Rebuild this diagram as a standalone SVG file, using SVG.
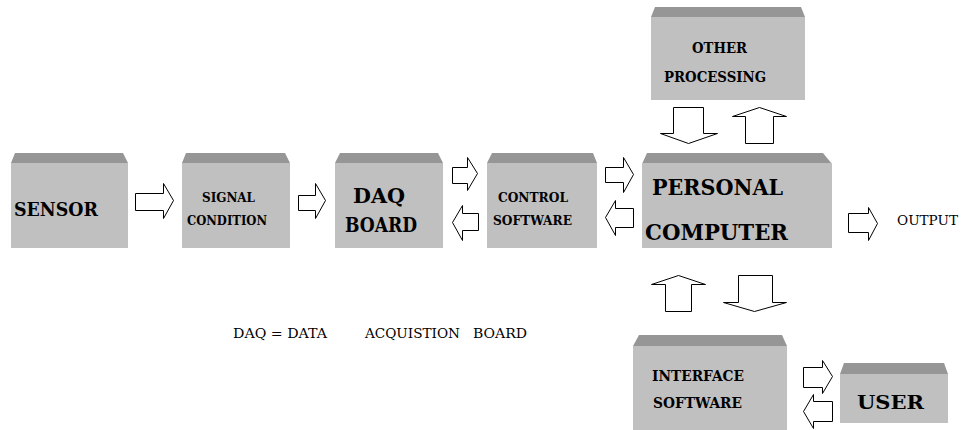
<svg xmlns="http://www.w3.org/2000/svg" width="961" height="430" viewBox="0 0 961 430">
  <style>
    .body { fill: #c0c0c0; }
    .bevel { fill: #969696; }
    .arrow { fill: #ffffff; stroke: #000000; stroke-width: 1; stroke-linejoin: miter; }
    .lbl { font-family: 'DejaVu Serif', 'Liberation Serif', serif; font-weight: 700; fill: #000000; }
    .note { font-family: 'DejaVu Serif', 'Liberation Serif', serif; fill: #000000; }
  </style>
  <rect width="961" height="430" fill="#ffffff"/>

  <!-- blocks: bevelled top strip plus grey body -->
  <g id="sensor">
    <polygon class="bevel" points="15,153 123,153 128,163 11,163"/>
    <rect class="body" x="11" y="163" width="117" height="85"/>
    <text class="lbl" x="14" y="216" font-size="18" textLength="84" lengthAdjust="spacingAndGlyphs">SENSOR</text>
  </g>

  <g id="signal-condition">
    <polygon class="bevel" points="186,153 285,153 290,163 182,163"/>
    <rect class="body" x="182" y="163" width="108" height="85"/>
    <text class="lbl" x="202" y="202" font-size="12.5" textLength="53" lengthAdjust="spacingAndGlyphs">SIGNAL</text>
    <text class="lbl" x="187" y="225" font-size="12.5" textLength="80" lengthAdjust="spacingAndGlyphs">CONDITION</text>
  </g>

  <g id="daq-board">
    <polygon class="bevel" points="340,153 438,153 443,163 335,163"/>
    <rect class="body" x="335" y="163" width="108" height="85"/>
    <text class="lbl" x="353" y="203" font-size="20" textLength="52" lengthAdjust="spacingAndGlyphs">DAQ</text>
    <text class="lbl" x="345" y="232" font-size="20" textLength="72" lengthAdjust="spacingAndGlyphs">BOARD</text>
  </g>

  <g id="control-software">
    <polygon class="bevel" points="492,153 593,153 597,163 487,163"/>
    <rect class="body" x="487" y="163" width="110" height="85"/>
    <text class="lbl" x="498" y="202" font-size="12.5" textLength="70" lengthAdjust="spacingAndGlyphs">CONTROL</text>
    <text class="lbl" x="493" y="225" font-size="12.5" textLength="79" lengthAdjust="spacingAndGlyphs">SOFTWARE</text>
  </g>

  <g id="personal-computer">
    <polygon class="bevel" points="647,153 823,153 832,164 642,164"/>
    <rect class="body" x="642" y="163" width="190" height="85"/>
    <text class="lbl" x="652" y="195" font-size="22" textLength="131" lengthAdjust="spacingAndGlyphs">PERSONAL</text>
    <text class="lbl" x="645" y="240" font-size="22" textLength="143" lengthAdjust="spacingAndGlyphs">COMPUTER</text>
  </g>

  <g id="other-processing">
    <polygon class="bevel" points="655,7 801,7 805,17 651,17"/>
    <rect class="body" x="651" y="17" width="154" height="83"/>
    <text class="lbl" x="692" y="53" font-size="14" textLength="55" lengthAdjust="spacingAndGlyphs">OTHER</text>
    <text class="lbl" x="664" y="82" font-size="14" textLength="102" lengthAdjust="spacingAndGlyphs">PROCESSING</text>
  </g>

  <g id="interface-software">
    <polygon class="bevel" points="639,335 782,335 787,346 633,346"/>
    <rect class="body" x="633" y="346" width="154" height="84"/>
    <text class="lbl" x="652" y="381" font-size="14" textLength="92" lengthAdjust="spacingAndGlyphs">INTERFACE</text>
    <text class="lbl" x="653" y="408" font-size="14" textLength="89" lengthAdjust="spacingAndGlyphs">SOFTWARE</text>
  </g>

  <g id="user">
    <polygon class="bevel" points="844,363 944,363 948,374 840,374"/>
    <rect class="body" x="840" y="374" width="108" height="49"/>
    <text class="lbl" x="857" y="409" font-size="19" textLength="67" lengthAdjust="spacingAndGlyphs">USER</text>
  </g>

  <g id="output-label">
    <text class="note" x="897" y="225" font-size="12" textLength="61" lengthAdjust="spacingAndGlyphs">OUTPUT</text>
  </g>

  <g id="legend">
    <text class="note" x="233" y="338" font-size="12" textLength="94" lengthAdjust="spacingAndGlyphs">DAQ = DATA</text>
    <text class="note" x="365" y="338" font-size="12" textLength="95" lengthAdjust="spacingAndGlyphs">ACQUISTION</text>
    <text class="note" x="473" y="338" font-size="12" textLength="54" lengthAdjust="spacingAndGlyphs">BOARD</text>
  </g>

  <!-- block arrows between the stages -->
  <g id="connectors">
    <!-- sensor to signal condition -->
    <polygon class="arrow" points="135.5,193.5 163.5,193.5 163.5,183.5 173.5,200.5 163.5,218.5 163.5,210.5 135.5,210.5"/>
    <!-- signal condition to DAQ board -->
    <polygon class="arrow" points="298.5,195.5 315.5,195.5 315.5,183.5 325.5,200.5 315.5,218.5 315.5,210.5 298.5,210.5"/>
    <!-- DAQ board to control software -->
    <polygon class="arrow" points="452.5,167.5 467.5,167.5 467.5,157.5 477.5,173.5 467.5,190.5 467.5,183.5 452.5,183.5"/>
    <!-- control software back to DAQ board -->
    <polygon class="arrow" points="478.5,213.5 462.5,213.5 462.5,205.5 452.5,222.5 462.5,240.5 462.5,230.5 478.5,230.5"/>
    <!-- control software to computer -->
    <polygon class="arrow" points="605.5,167.5 623.5,167.5 623.5,157.5 633.5,174.5 623.5,192.5 623.5,182.5 605.5,182.5"/>
    <!-- computer back to control software -->
    <polygon class="arrow" points="633.5,208.5 615.5,208.5 615.5,200.5 605.5,217.5 615.5,235.5 615.5,227.5 633.5,227.5"/>
    <!-- computer output -->
    <polygon class="arrow" points="848.5,213.5 868.5,213.5 868.5,207.5 877.5,223.5 868.5,240.5 868.5,232.5 848.5,232.5"/>
    <!-- other processing down to computer -->
    <polygon class="arrow" points="673.5,107.5 703.5,107.5 703.5,133.5 717.5,133.5 688.5,143.5 660.5,133.5 673.5,133.5"/>
    <!-- computer up to other processing -->
    <polygon class="arrow" points="745.5,143.5 773.5,143.5 773.5,116.5 786.5,116.5 759.5,107.5 732.5,116.5 745.5,116.5"/>
    <!-- interface software up to computer -->
    <polygon class="arrow" points="665.5,311.5 691.5,311.5 691.5,284.5 705.5,284.5 678.5,275.5 651.5,284.5 665.5,284.5"/>
    <!-- computer down to interface software -->
    <polygon class="arrow" points="738.5,275.5 772.5,275.5 772.5,302.5 786.5,302.5 754.5,311.5 723.5,302.5 738.5,302.5"/>
    <!-- interface software to user -->
    <polygon class="arrow" points="803.5,367.5 822.5,367.5 822.5,360.5 832.5,376.5 822.5,393.5 822.5,387.5 803.5,387.5"/>
    <!-- user back to interface software -->
    <polygon class="arrow" points="832.5,401.5 813.5,401.5 813.5,394.5 803.5,411.5 813.5,428.5 813.5,421.5 832.5,421.5"/>
  </g>
</svg>
